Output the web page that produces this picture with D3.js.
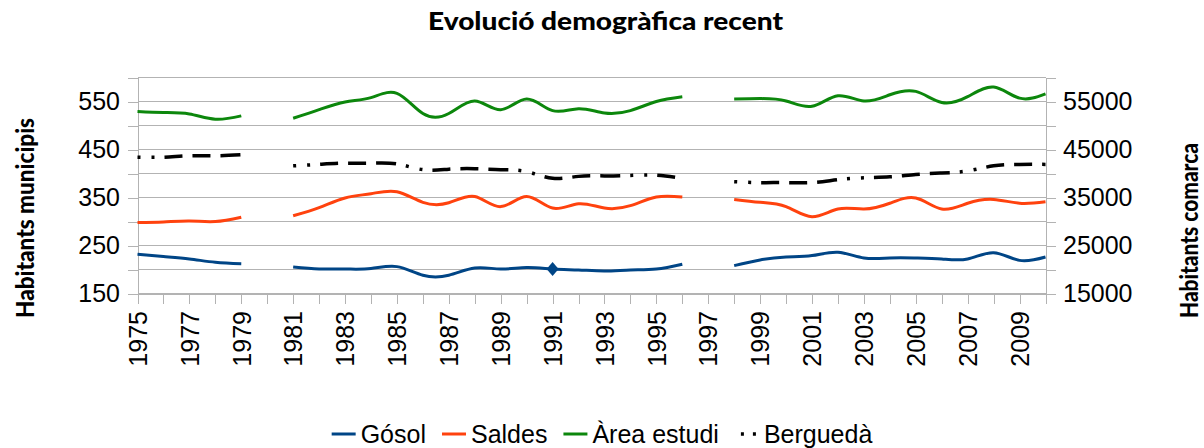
<!DOCTYPE html>
<html><head><meta charset="utf-8">
<script src="https://cdn.jsdelivr.net/npm/d3@7"></script>
<style>body{margin:0;background:#fff} svg{display:block}</style>
</head><body>
<svg id="c" width="1204" height="448"></svg>
<script>
const years = [1975,1976,1977,1978,1979,1980,1981,1982,1983,1984,1985,1986,1987,1988,1989,1990,1991,1992,1993,1994,1995,1996,1997,1998,1999,2000,2001,2002,2003,2004,2005,2006,2007,2008,2009,2010];
const xLabelYears = [1975,1977,1979,1981,1983,1985,1987,1989,1991,1993,1995,1997,1999,2001,2003,2005,2007,2009];
const gosol   = [232,227,222,215,212,null,205,201,201,202,206,188,188,203,201,204,201,199,197,199,201,211,null,208,220,226,229,236,224,224,224,222,222,235,219,226];
const saldes  = [298,299,301,300,309,null,312,329,349,358,362,340,339,352,331,352,328,337,328,333,351,351,null,346,340,331,310,326,326,338,349,326,338,346,338,341];
const area    = [529,527,524,513,520,null,515,533,549,558,567,525,525,551,533,555,531,535,526,531,550,560,null,555,556,551,540,562,551,564,571,548,560,580,557,566];
const bergueda= [43400,43400,43700,43700,43900,null,41600,41900,42150,42150,42000,40800,40900,41000,40800,40400,39000,39400,39500,39600,39650,38960,null,38300,38100,38100,38100,38700,39100,39300,39800,40100,40550,41600,41900,41900];
const leftTicks  = [150,200,250,300,350,400,450,500,550,600];
const leftLabels = [150,250,350,450,550];
const rightTicks = [15000,20000,25000,30000,35000,40000,45000,50000,55000,60000];
const rightLabels= [15000,25000,35000,45000,55000];
const markedYear = 1991;

const W = 1204, H = 448;
const plot = {left:137.5, right:1045.5, top:77.5, bottom:293.5};
const grid = '#b3b3b3';
const tickFont = '"Liberation Sans", Arial, sans-serif';
const titleFont = 'Lato, "Open Sans", sans-serif';

const svg = d3.select('#c');
svg.append('rect').attr('width', W).attr('height', H).attr('fill', '#fff');

const x  = d3.scaleLinear().domain([years[0], years[years.length-1]]).range([plot.left, plot.right]);
const yL = d3.scaleLinear().domain([leftTicks[0], leftTicks[leftTicks.length-1]]).range([plot.bottom, plot.top]);
const yR = d3.scaleLinear().domain([rightTicks[0], rightTicks[rightTicks.length-1]]).range([plot.bottom, plot.top]);

// gridlines
svg.append('g').selectAll('line').data(leftTicks).join('line')
  .attr('x1', plot.left).attr('x2', plot.right)
  .attr('y1', d => yL(d)).attr('y2', d => yL(d))
  .attr('stroke', grid).attr('stroke-width', 1).attr('shape-rendering', 'crispEdges');

function styleAxis(g) {
  g.selectAll('path.domain').attr('stroke', grid).attr('shape-rendering', 'crispEdges');
  g.selectAll('.tick line').attr('stroke', grid).attr('shape-rendering', 'crispEdges');
  g.selectAll('.tick text').attr('fill', '#000').style('font-family', tickFont).style('font-size', '25px');
}

const axL = svg.append('g').attr('transform', `translate(${plot.left},0)`)
  .call(d3.axisLeft(yL).tickValues(leftTicks).tickSize(10).tickSizeOuter(0).tickPadding(7.5)
    .tickFormat(d => leftLabels.includes(d) ? d : ''));
styleAxis(axL);

const axR = svg.append('g').attr('transform', `translate(${plot.right},0)`)
  .call(d3.axisRight(yR).tickValues(rightTicks).tickSize(10).tickSizeOuter(0).tickPadding(7.5)
    .tickFormat(d => rightLabels.includes(d) ? d : ''));
styleAxis(axR);

const axB = svg.append('g').attr('transform', `translate(0,${plot.bottom})`)
  .call(d3.axisBottom(x).tickValues(years).tickSize(10).tickSizeOuter(0)
    .tickFormat(d => xLabelYears.includes(d) ? d : ''));
styleAxis(axB);
axB.selectAll('.tick text')
  .attr('transform', 'rotate(-90)')
  .attr('x', -17.5).attr('y', 0).attr('dy', '0.35em')
  .attr('text-anchor', 'end');

// series
const series = [
  {name:'Berguedà', values:bergueda, color:'#000', scale:yR, width:3.5, dash:'3,11,3,10,18,10,18,10,20,10'},
  {name:'Gósol', values:gosol, color:'#004586', scale:yL, width:3},
  {name:'Saldes', values:saldes, color:'#ff420e', scale:yL, width:3},
  {name:'Àrea estudi', values:area, color:'#0c870c', scale:yL, width:3}
];

series.forEach(s => {
  const pts = years.map((yr, i) => [yr, s.values[i]]);
  const gen = d3.line().defined(d => d[1] != null)
    .x(d => x(d[0])).y(d => s.scale(d[1])).curve(d3.curveNatural);
  svg.append('path').datum(pts)
    .attr('d', gen).attr('fill', 'none')
    .attr('stroke', s.color).attr('stroke-width', s.width)
    .attr('stroke-dasharray', s.dash || null)
    .attr('stroke-linejoin', 'round');
});

// marker on Gósol
{
  const i = years.indexOf(markedYear);
  const cx = x(markedYear), cy = yL(gosol[i]);
  const p = d3.path();
  p.moveTo(cx, cy - 7); p.lineTo(cx + 6, cy); p.lineTo(cx, cy + 7); p.lineTo(cx - 6, cy); p.closePath();
  svg.append('path').attr('d', p.toString()).attr('fill', '#004586');
}

// title
svg.append('text').text('Evolució demogràfica recent')
  .attr('x', 605.5).attr('y', 30).attr('text-anchor', 'middle')
  .attr('textLength', 355).attr('lengthAdjust', 'spacingAndGlyphs')
  .style('font-family', titleFont).style('font-weight', '900').style('font-size', '24px');

// axis titles
svg.append('text').text('Habitants municipis')
  .attr('transform', 'translate(34,218) rotate(-90)').attr('text-anchor', 'middle')
  .attr('textLength', 200).attr('lengthAdjust', 'spacingAndGlyphs')
  .style('font-family', titleFont).style('font-weight', '900').style('font-size', '25px');
svg.append('text').text('Habitants comarca')
  .attr('transform', 'translate(1198,230.5) rotate(-90)').attr('text-anchor', 'middle')
  .attr('textLength', 175).attr('lengthAdjust', 'spacingAndGlyphs')
  .style('font-family', titleFont).style('font-weight', '900').style('font-size', '25px');

// legend
const legendOrder = ['Gósol', 'Saldes', 'Àrea estudi', 'Berguedà'];
const lg = svg.append('g');
let cursor = 0;
const lineLen = 24, gapText = 5, gapItem = 16;
legendOrder.forEach(name => {
  const s = series.find(d => d.name === name);
  const g = lg.append('g').attr('transform', `translate(${cursor},0)`);
  g.append('line').attr('x1', 0).attr('x2', lineLen).attr('y1', 0).attr('y2', 0)
    .attr('stroke', s.color).attr('stroke-width', s.width)
    .attr('stroke-dasharray', s.dash ? '3,9,3,20' : null)
    .attr('transform', s.dash ? 'translate(6,0)' : null);
  const t = g.append('text').text(name).attr('x', lineLen + gapText).attr('y', 0).attr('dy', '0.35em')
    .style('font-family', tickFont).style('font-size', '25px').attr('fill', '#000');
  cursor += lineLen + gapText + t.node().getComputedTextLength() + gapItem;
});
const totalW = cursor - gapItem;
lg.attr('transform', `translate(${602 - totalW / 2},434)`);
</script>
</body></html>
